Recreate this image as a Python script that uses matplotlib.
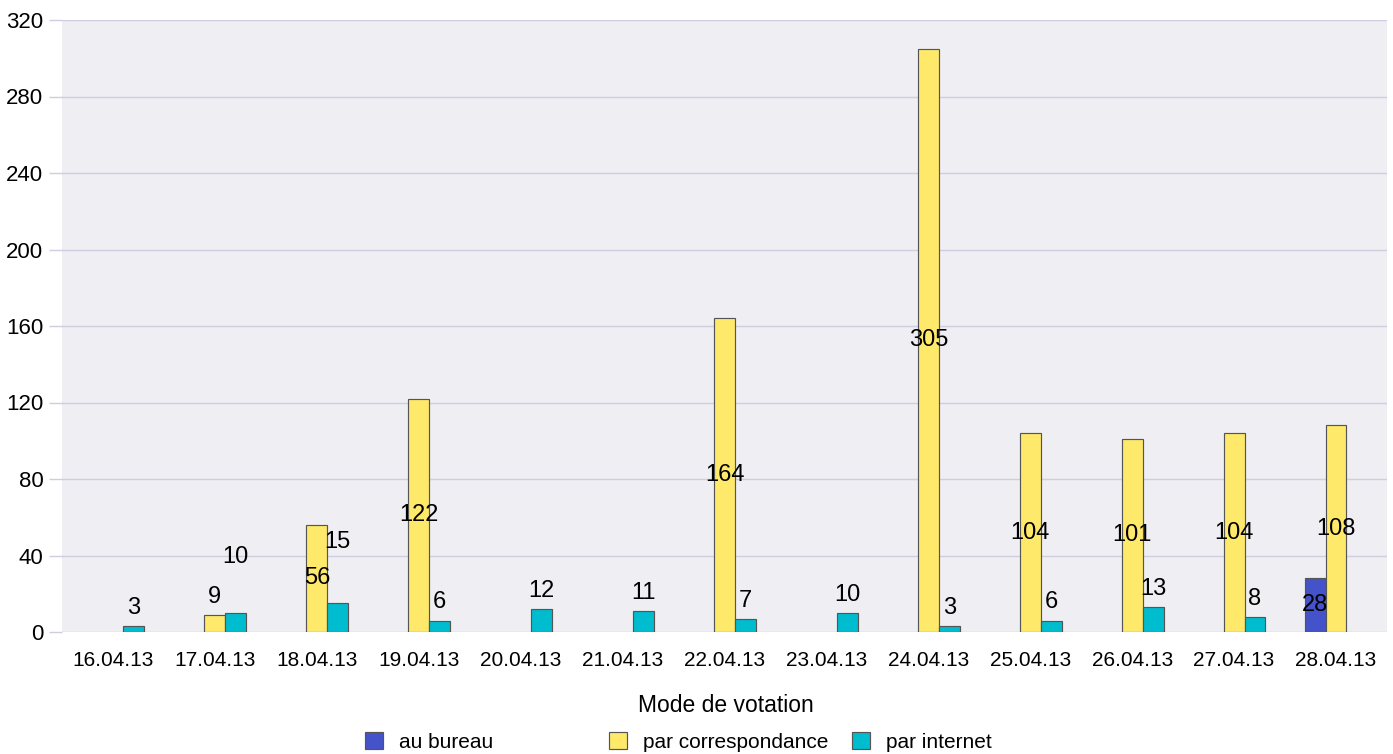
import numpy as np
import matplotlib.pyplot as plt
from matplotlib.patches import Patch

plt.rcParams['font.family'] = ['Liberation Sans', 'DejaVu Sans']

# data (nan = no bar)
dates = ["16.04.13", "17.04.13", "18.04.13", "19.04.13", "20.04.13", "21.04.13", "22.04.13",
         "23.04.13", "24.04.13", "25.04.13", "26.04.13", "27.04.13", "28.04.13"]
nan = np.nan
au_bureau = [nan, nan, nan, nan, nan, nan, nan, nan, nan, nan, nan, nan, 28]
par_correspondance = [nan, 9, 56, 122, nan, nan, 164, nan, 305, 104, 101, 104, 108]
par_internet = [3, 10, 15, 6, 12, 11, 7, 10, 3, 6, 13, 8, nan]
series_names = ["au bureau", "par correspondance", "par internet"]
y_ticks = [0, 40, 80, 120, 160, 200, 240, 280, 320]

colors = ["#4453c9", "#ffe96b", "#00bccf"]
edge = "#555555"
grid_c = "#cfcde0"

fig = plt.figure(figsize=(13.93, 7.54), dpi=100)
ax = fig.add_axes([62 / 1393, 1 - 632 / 754, (1387 - 62) / 1393, (632 - 20) / 754])
ax.set_facecolor("#efeef3")

x = np.arange(len(dates))
w = 0.205
series = [au_bureau, par_correspondance, par_internet]
# extra lift (points) for labels the original moved up to avoid overlaps
extra_lift = {(2, 1): 27, (2, 2): 31}

for k, (vals, col) in enumerate(zip(series, colors)):
    vals = np.array(vals, dtype=float)
    xs = x + (k - 1) * w
    ax.bar(xs, vals, width=w, color=col, edgecolor=edge, linewidth=0.85, zorder=3)
    for i, v in enumerate(vals):
        if np.isnan(v):
            continue
        if v > 20:
            ax.text(xs[i], v / 2, f"{int(v)}", ha="center", va="center", fontsize=17, zorder=5)
        else:
            lift = 13.0 + extra_lift.get((k, i), 0)
            ax.annotate(f"{int(v)}", (xs[i], v), xytext=(0, lift), textcoords="offset points",
                        ha="center", va="center", fontsize=17, zorder=5)

ax.set_xlim(-0.5, len(dates) - 0.5)
ax.set_ylim(0, 320)
ax.set_yticks(y_ticks)
ax.set_xticks(x)
ax.set_xticklabels(dates)
ax.yaxis.grid(True, color=grid_c, linewidth=1, zorder=0)
ax.set_axisbelow(True)
for s in ax.spines.values():
    s.set_visible(False)
ax.tick_params(axis="y", length=9.5, color=grid_c, width=1, pad=4, labelsize=16)
ax.tick_params(axis="x", length=0, pad=14, labelsize=15)

fig.text(726 / 1393, 1 - 712 / 754, "Mode de votation", ha="center", va="baseline", fontsize=16.5)

# legend items sit at irregular spots, one small legend each
legend_x = [365, 609, 852]
for name, col, lx in zip(series_names, colors, legend_x):
    h = Patch(facecolor=col, edgecolor=edge, linewidth=0.85)
    fig.legend([h], [name], loc="center left", bbox_to_anchor=(lx / 1393, 1 - 742 / 754),
               frameon=False, fontsize=15, handlelength=0.85, handleheight=0.85,
               handletextpad=0.8, borderpad=0, borderaxespad=0)

fig.savefig("out.png", dpi=100)
